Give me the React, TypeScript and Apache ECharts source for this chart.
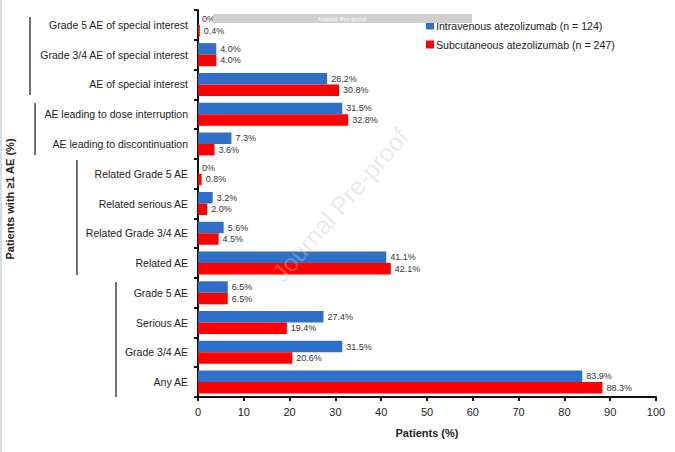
import React, { useEffect, useRef } from "react";
import * as echarts from "echarts";

const categories = [
  "Grade 5 AE of special interest",
  "Grade 3/4 AE of special interest",
  "AE of special interest",
  "AE leading to dose interruption",
  "AE leading to discontinuation",
  "Related Grade 5 AE",
  "Related serious AE",
  "Related Grade 3/4 AE",
  "Related AE",
  "Grade 5 AE",
  "Serious AE",
  "Grade 3/4 AE",
  "Any AE",
];
const ivValues = [0, 4.0, 28.2, 31.5, 7.3, 0, 3.2, 5.6, 41.1, 6.5, 27.4, 31.5, 83.9];
const scValues = [0.4, 4.0, 30.8, 32.8, 3.6, 0.8, 2.0, 4.5, 42.1, 6.5, 19.4, 20.6, 88.3];
const seriesNames = [
  "Intravenous atezolizumab (n = 124)",
  "Subcutaneous atezolizumab (n = 247)",
];
const xTicks = [0, 10, 20, 30, 40, 50, 60, 70, 80, 90, 100];

const FONT = "Liberation Sans, Arial, sans-serif";

export default function App() {
  const ref = useRef<HTMLDivElement>(null);
  useEffect(() => {
    if (!ref.current) return;
    const chart = echarts.init(ref.current, undefined, { renderer: "svg" });
    const fmt = (p: any) => (p.value === 0 ? "0%" : Number(p.value).toFixed(1) + "%");
    const labelCfg = {
      show: true,
      position: "right",
      distance: 4,
      fontSize: 9,
      color: "#333",
      fontFamily: FONT,
      formatter: fmt,
    };
    const bracketLines = [
      [30, 17, 95],
      [35, 103, 155],
      [77, 160, 275],
      [116, 282, 397],
    ];
    chart.setOption({
      animation: false,
      textStyle: { fontFamily: FONT },
      grid: { left: 198, right: 19, top: 10, bottom: 55, containLabel: false },
      legend: {
        orient: "vertical",
        left: 421,
        top: 15,
        itemWidth: 8,
        itemHeight: 8,
        itemGap: 8,
        icon: "rect",
        textStyle: { fontSize: 10.6, color: "#222", fontFamily: FONT, padding: [0, 0, 0, -3] },
        data: seriesNames,
      },
      xAxis: {
        type: "value",
        min: 0,
        max: 100,
        interval: 10,
        name: "Patients (%)",
        nameLocation: "middle",
        nameGap: 30,
        nameTextStyle: { fontSize: 11, fontWeight: "bold", color: "#222", fontFamily: FONT },
        axisLine: { show: true, lineStyle: { color: "#111", width: 2 } },
        axisTick: { show: true, length: 4, lineStyle: { color: "#111", width: 2 } },
        axisLabel: {
          fontSize: 11,
          color: "#222",
          margin: 9,
          fontFamily: FONT,
          formatter: (v: number) => (xTicks.includes(v) ? String(v) : ""),
        },
        splitLine: { show: false },
      },
      yAxis: {
        type: "category",
        inverse: true,
        data: categories,
        axisLine: { show: true, lineStyle: { color: "#111", width: 2 } },
        axisTick: { show: true, length: 4, lineStyle: { color: "#111", width: 2 } },
        axisLabel: { fontSize: 10.5, color: "#222", margin: 10, fontFamily: FONT },
      },
      series: [
        {
          name: seriesNames[0],
          type: "bar",
          data: ivValues,
          barWidth: 11.5,
          barGap: "0%",
          itemStyle: { color: "#2e6fc9" },
          label: labelCfg,
        },
        {
          name: seriesNames[1],
          type: "bar",
          data: scValues,
          barWidth: 11.5,
          barGap: "0%",
          itemStyle: { color: "#ff0000" },
          label: labelCfg,
        },
      ],
      graphic: [
        {
          type: "rect",
          left: 0,
          top: 0,
          shape: { width: 2, height: 452 },
          style: { fill: "#d3dfe5" },
        },
        ...bracketLines.map(([x, y1, y2]) => ({
          type: "line",
          shape: { x1: x, y1, x2: x, y2 },
          style: { stroke: "#444", lineWidth: 1.5 },
        })),
        {
          type: "text",
          x: 10,
          y: 199,
          rotation: Math.PI / 2,
          style: {
            text: "Patients with \u22651 AE (%)",
            fontSize: 11,
            fontWeight: "bold",
            fill: "#222",
            fontFamily: FONT,
            align: "center",
            verticalAlign: "middle",
          },
        },
        {
          type: "text",
          x: 340,
          y: 205,
          rotation: (49 * Math.PI) / 180,
          z: 100,
          style: {
            text: "Journal Pre-proof",
            fontSize: 25,
            fill: "rgba(200,200,200,0.38)",
            fontFamily: FONT,
            align: "center",
            verticalAlign: "middle",
          },
        },
        {
          type: "rect",
          z: 100,
          shape: { x: 213, y: 14, width: 259, height: 9 },
          style: { fill: "#d0d0d0" },
        },
        {
          type: "text",
          z: 101,
          x: 342,
          y: 18.5,
          style: {
            text: "Journal Pre-proof",
            fontSize: 7,
            fill: "#ffffff",
            fontFamily: "Liberation Serif, serif",
            align: "center",
            verticalAlign: "middle",
          },
        },
      ],
    });
    return () => chart.dispose();
  }, []);
  return (
    <div
      ref={ref}
      style={{ position: "fixed", left: 0, top: 0, width: 675, height: 452, background: "#fff" }}
    />
  );
}
